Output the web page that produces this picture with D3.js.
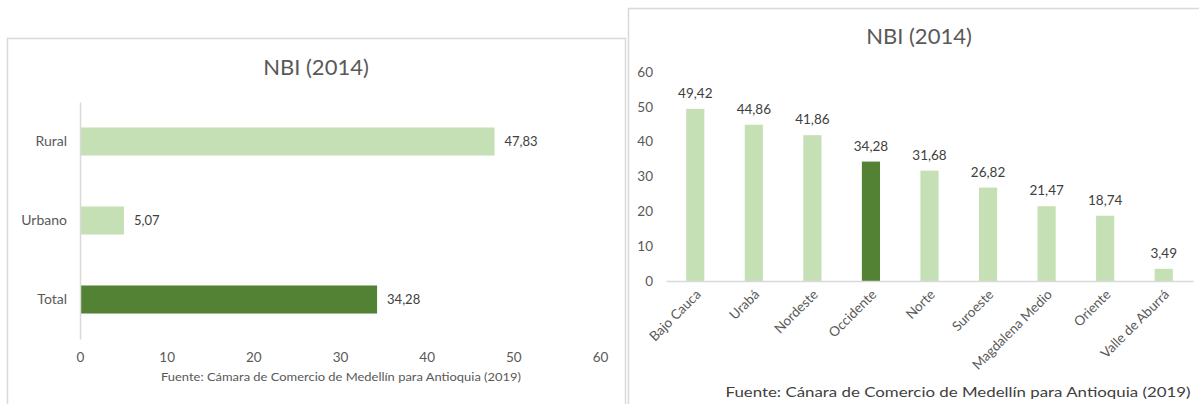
<!DOCTYPE html>
<html>
<head>
<meta charset="utf-8">
<script src="https://cdn.jsdelivr.net/npm/d3@7"></script>
<style>
  body { margin: 0; background: #fff; }
  svg { display: block; font-family: Lato, "Noto Sans", sans-serif; }
</style>
</head>
<body>
<div id="chart"></div>
<script>
// data
var zonas = ["Rural", "Urbano", "Total"];
var zonasValores = [47.83, 5.07, 34.28];

var subregiones = ["Bajo Cauca", "Urabá", "Nordeste", "Occidente", "Norte",
    "Suroeste", "Magdalena Medio", "Oriente", "Valle de Aburrá"];
var subregionesValores = [49.42, 44.86, 41.86, 34.28, 31.68, 26.82, 21.47, 18.74, 3.49];

var destacados = ["Total", "Occidente"];
var ticksValores = [0, 10, 20, 30, 40, 50, 60];

var titulo = "NBI (2014)";
var fuenteIzq = "Fuente: Cámara de Comercio de Medellín para Antioquia (2019)";
var fuenteDer = "Fuente:  Cánara de Comercio de  Medellín para Antioquia (2019)";

const width = 1199;
const height = 404;
const claro = "#c5e0b4";
const oscuro = "#548235";
const gris = "#595959";

function coma(v) { return d3.format(".2f")(v).replace(".", ","); }
function color(c) { return destacados.indexOf(c) >= 0 ? oscuro : claro; }

var svg = d3.select("#chart")
    .append("svg")
    .attr("width", width)
    .attr("height", height);

// frames of the two panels
svg.append("rect")
    .attr("x", 7.5).attr("y", 38.5)
    .attr("width", 618).attr("height", 420)
    .attr("fill", "#fff").attr("stroke", "#d9d9d9").attr("stroke-width", 1.5);
svg.append("rect")
    .attr("x", 628.5).attr("y", 8.5)
    .attr("width", 620).attr("height", 440)
    .attr("fill", "#fff").attr("stroke", "#d9d9d9").attr("stroke-width", 1.5);

// ---------- left chart: horizontal bars ----------
var datosIzq = zonas.map(function(z, i) { return {cat: z, val: zonasValores[i]}; });

var xL = d3.scaleLinear().domain([0, 60]).range([80, 600]);
var yL = d3.scaleBand().domain(zonas).range([102, 339])
    .paddingInner(0.645).paddingOuter(0.3225);

var left = svg.append("g");

left.append("text")
    .attr("x", 316).attr("y", 75)
    .attr("text-anchor", "middle")
    .attr("font-size", 22)
    .attr("fill", gris)
    .text(titulo);

left.selectAll("rect.bar")
    .data(datosIzq)
    .enter().append("rect")
    .attr("class", "bar")
    .attr("x", xL(0))
    .attr("y", function(d) { return yL(d.cat); })
    .attr("width", function(d) { return xL(d.val) - xL(0); })
    .attr("height", yL.bandwidth())
    .attr("fill", function(d) { return color(d.cat); });

left.selectAll("text.val")
    .data(datosIzq)
    .enter().append("text")
    .attr("class", "val")
    .attr("x", function(d) { return xL(d.val) + 10; })
    .attr("y", function(d) { return yL(d.cat) + yL.bandwidth() / 2; })
    .attr("dy", "0.35em")
    .attr("font-size", 13)
    .attr("fill", "#404040")
    .text(function(d) { return coma(d.val); });

var axL = left.append("g")
    .attr("transform", "translate(" + xL(0) + ",0)")
    .call(d3.axisLeft(yL).tickSize(0).tickPadding(13));
axL.select(".domain").attr("stroke", "#d9d9d9").attr("stroke-width", 1.5);
axL.selectAll("text").attr("font-family", "Lato, sans-serif").attr("font-size", 14).attr("fill", gris);

var axLB = left.append("g")
    .attr("transform", "translate(0,339)")
    .call(d3.axisBottom(xL).tickValues(ticksValores).tickSize(0).tickPadding(13));
axLB.select(".domain").remove();
axLB.selectAll("text").attr("font-family", "Lato, sans-serif").attr("font-size", 13.5).attr("fill", gris);

left.append("text")
    .attr("x", 341).attr("y", 381)
    .attr("text-anchor", "middle")
    .attr("font-size", 11)
    .attr("fill", gris)
    .attr("textLength", 360)
    .attr("lengthAdjust", "spacingAndGlyphs")
    .text(fuenteIzq);

// ---------- right chart: vertical bars ----------
var datosDer = subregiones.map(function(s, i) { return {cat: s, val: subregionesValores[i]}; });

var xR = d3.scaleBand().domain(subregiones).range([666, 1193])
    .paddingInner(0.69).paddingOuter(0.345);
var yR = d3.scaleLinear().domain([0, 60]).range([281, 72]);

var right = svg.append("g");

right.append("text")
    .attr("x", 919).attr("y", 44)
    .attr("text-anchor", "middle")
    .attr("font-size", 22)
    .attr("fill", gris)
    .text(titulo);

var axRY = right.append("g")
    .attr("transform", "translate(666,0)")
    .call(d3.axisLeft(yR).tickValues(ticksValores).tickSize(0).tickPadding(13));
axRY.select(".domain").remove();
axRY.selectAll("text").attr("font-family", "Lato, sans-serif").attr("font-size", 13.5).attr("fill", gris);

right.selectAll("rect.bar")
    .data(datosDer)
    .enter().append("rect")
    .attr("class", "bar")
    .attr("x", function(d) { return xR(d.cat); })
    .attr("y", function(d) { return yR(d.val); })
    .attr("width", xR.bandwidth())
    .attr("height", function(d) { return yR(0) - yR(d.val); })
    .attr("fill", function(d) { return color(d.cat); });

right.selectAll("text.val")
    .data(datosDer)
    .enter().append("text")
    .attr("class", "val")
    .attr("x", function(d) { return xR(d.cat) + xR.bandwidth() / 2; })
    .attr("y", function(d) { return yR(d.val) - 11; })
    .attr("text-anchor", "middle")
    .attr("font-size", 13.5)
    .attr("fill", "#404040")
    .text(function(d) { return coma(d.val); });

var axRX = right.append("g")
    .attr("transform", "translate(0," + yR(0) + ")")
    .call(d3.axisBottom(xR).tickSize(0).tickSizeOuter(0));
axRX.select(".domain").attr("stroke", "#d9d9d9").attr("stroke-width", 1.5);
axRX.selectAll(".tick text")
    .attr("font-family", "Lato, sans-serif")
    .attr("font-size", 13.5)
    .attr("fill", gris)
    .attr("text-anchor", "end")
    .attr("dy", "0.35em")
    .attr("transform", "translate(3,11) rotate(-45)")
    .attr("y", 0);

right.append("text")
    .attr("x", 958).attr("y", 397)
    .attr("text-anchor", "middle")
    .attr("font-size", 13)
    .attr("fill", "#404040")
    .attr("textLength", 465)
    .attr("lengthAdjust", "spacingAndGlyphs")
    .text(fuenteDer);
</script>
</body>
</html>
